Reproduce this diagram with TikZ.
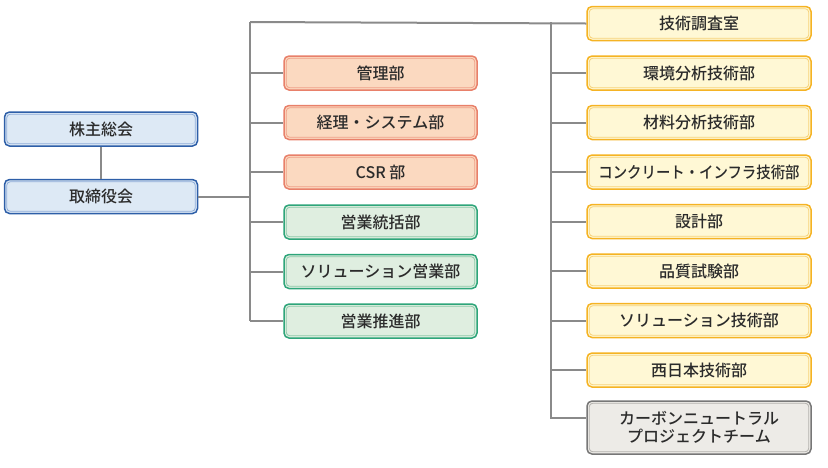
\documentclass[tikz,border=0pt]{standalone}
\usepackage{fontspec}
\setmainfont{Noto Sans CJK JP}[UprightFont=* Medium]
\definecolor{txt}{HTML}{2B2B2B}
\definecolor{lnc}{HTML}{8A8A8A}
\definecolor{bfill}{HTML}{DDE9F5}\definecolor{bdraw}{HTML}{2E5FA8}\definecolor{binner}{HTML}{8FADD8}
\definecolor{sfill}{HTML}{FBD9C0}\definecolor{sdraw}{HTML}{E8806A}\definecolor{sinner}{HTML}{F0A088}
\definecolor{gfill}{HTML}{DFEEE0}\definecolor{gdraw}{HTML}{2EA57A}\definecolor{ginner}{HTML}{8CC9A8}
\definecolor{yfill}{HTML}{FFF8D5}\definecolor{ydraw}{HTML}{F5B324}\definecolor{yinner}{HTML}{F6D27A}
\definecolor{afill}{HTML}{EDEBE7}\definecolor{adraw}{HTML}{777777}\definecolor{ainner}{HTML}{B3B1AD}
\tikzset{
  box/.style={rectangle, rounded corners=5pt, line width=1.5pt, inner sep=0pt,
    text=txt, font=\fontsize{16}{18.5}\selectfont, align=center},
  bluebox/.style={box, fill=bfill, draw=bdraw, minimum width=193pt, minimum height=34pt},
  salbox/.style={box, fill=sfill, draw=sdraw, minimum width=193pt, minimum height=34pt},
  grnbox/.style={box, fill=gfill, draw=gdraw, minimum width=193pt, minimum height=34pt},
  yelbox/.style={box, fill=yfill, draw=ydraw, minimum width=224pt, minimum height=34pt},
  grybox/.style={box, fill=afill, draw=adraw, minimum width=224pt, minimum height=53pt},
  conn/.style={draw=lnc, line width=2pt},
}
\newcommand{\innerline}[2]{\draw[#2, line width=0.8pt, rounded corners=3.5pt]
  ([shift={(3pt,-3pt)}]#1.north west) rectangle ([shift={(-3pt,3pt)}]#1.south east);}
\begin{document}
\begin{tikzpicture}[x=1pt,y=-1pt]
\useasboundingbox (0,0) rectangle (828,467);
\coordinate (t1) at (250,22);
\coordinate (b1) at (250,321);
\coordinate (t2) at (551,22);
\coordinate (b2) at (551,418);
% left
\node[bluebox] (sh) at (101,129) {株主総会};
\node[bluebox] (bd) at (101,196.5) {取締役会};
% middle
\node[salbox] (m1) at (380.5,73) {管理部};
\node[salbox] (m2) at (380.5,122.5) {経理・システム部};
\node[salbox] (m3) at (380.5,172) {CSR 部};
\node[grnbox] (m4) at (380.5,222) {営業統括部};
\node[grnbox] (m5) at (380.5,271.5) {ソリューション営業部};
\node[grnbox] (m6) at (380.5,321) {営業推進部};
% right
\node[yelbox] (r1) at (699,23.5) {技術調査室};
\node[yelbox] (r2) at (699,73) {環境分析技術部};
\node[yelbox] (r3) at (699,122.5) {材料分析技術部};
\node[yelbox] (r4) at (699,172) {\scalebox{0.9}[1]{コンクリート・インフラ技術部}};
\node[yelbox] (r5) at (699,221.5) {設計部};
\node[yelbox] (r6) at (699,271) {品質試験部};
\node[yelbox] (r7) at (699,320.5) {ソリューション技術部};
\node[yelbox] (r8) at (699,370) {西日本技術部};
\node[grybox] (r9) at (699,427.5) {カーボンニュートラル\\プロジェクトチーム};
% lines
\draw[conn] (sh.south) -- (bd.north);
\draw[conn] (bd.east) -- (bd.east -| t1);
\draw[conn] (t1) -- (b1);
\draw[conn] (t1) -- (r1.west);
\draw[conn] (t2) -- (b2) -- (b2 -| r9.west);
\foreach \n in {m1,m2,m3,m4,m5,m6} \draw[conn] (\n.west -| t1) -- (\n.west);
\foreach \n in {r2,r3,r4,r5,r6,r7,r8} \draw[conn] (\n.west -| t2) -- (\n.west);
% inner lines
\innerline{sh}{binner}\innerline{bd}{binner}
\innerline{m1}{sinner}\innerline{m2}{sinner}\innerline{m3}{sinner}
\innerline{m4}{ginner}\innerline{m5}{ginner}\innerline{m6}{ginner}
\foreach \n in {r1,r2,r3,r4,r5,r6,r7,r8} {\innerline{\n}{yinner}}
\innerline{r9}{ainner}
\end{tikzpicture}
\end{document}
